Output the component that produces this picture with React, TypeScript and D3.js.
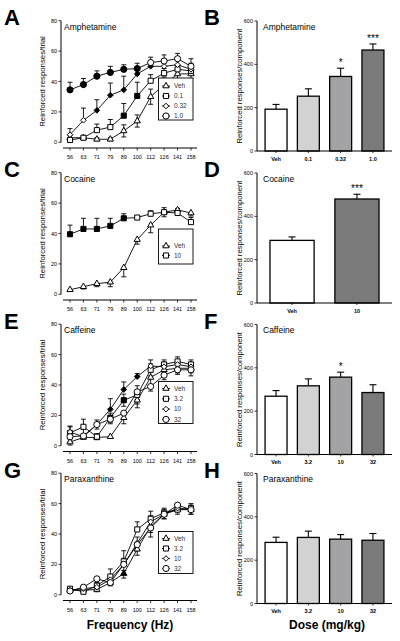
import React from 'react';
import * as d3 from 'd3';

// ---------- Data ----------
const freqs = ["56", "63", "71", "79", "89", "100", "112", "126", "141", "158"];
const yTicksLine = [0, 20, 40, 60, 80];
const yTicksBar = [0, 200, 400, 600];

// A: Amphetamine (line)
const ampNames = ["Veh", "0.1", "0.32", "1.0"];
const ampVeh = [3, 3, 2, 2, 7.5, 14, 30, 38, 45, 45];
const ampVehErr = [1.5, 1, 1, 1, 4, 4, 5, 5, 3, 3];
const amp01 = [1.5, 3, 8, 10, 17.5, 30.5, 40.5, 45.5, 48, 47];
const amp01Err = [1, 1, 4, 5, 8, 9, 4, 3, 3, 3];
const amp01Filled = [4, 5];
const amp032 = [5, 14.5, 21, 31, 34.5, 45, 50, 50, 51, 48];
const amp032Err = [4, 8, 7, 8, 9, 3, 3, 3, 3, 4];
const amp032Filled = [2, 3, 4, 5, 6];
const amp10 = [34.5, 38, 43.5, 46, 48, 48.5, 52.5, 53.5, 55, 50];
const amp10Err = [5, 4, 3.5, 4, 3, 3.5, 3.5, 4, 3.5, 5];
const amp10Filled = [0, 1, 2, 3, 4, 5];

// C: Cocaine (line)
const cocNames = ["Veh", "10"];
const cocVeh = [3, 5, 7, 8, 17.5, 36, 45.5, 54, 55.5, 53.5];
const cocVehErr = [1, 1.5, 2, 3, 6, 3, 5, 3, 2, 2];
const coc10 = [39.5, 43, 43, 45, 50, 50.5, 53, 54, 53.5, 47.5];
const coc10Err = [6, 7, 7, 5, 3, 1, 2, 3, 3, 3];
const coc10Filled = [0, 1, 2, 3, 4];

// E: Caffeine (line)
const cafNames = ["Veh", "3.2", "10", "32"];
const cafVeh = [2.5, 5.5, 5.5, 6, 18.5, 30, 45, 50, 51, 51];
const cafVehErr = [2, 1, 1, 1, 4, 5, 5, 3, 3, 3];
const caf32d = [8.5, 12.5, 6, 18.5, 30, 33.5, 50, 53.5, 55.5, 53.5];
const caf32dErr = [4, 5, 2, 3, 4, 6, 4, 3, 3, 3];
const caf32dFilled = [3, 4];
const caf10 = [9, 6, 14, 24, 37, 45.5, 52.5, 52, 53.5, 52];
const caf10Err = [4, 2, 3, 7, 5, 2, 4, 3, 3, 3];
const caf10Filled = [3, 4, 5];
const caf32 = [6, 6.5, 14, 17.5, 21.5, 35.5, 39, 46.5, 50, 50];
const caf32Err = [3, 2, 3, 3, 4, 5, 3, 3, 3, 4];

// G: Paraxanthine (line)
const parNames = ["Veh", "3.2", "10", "32"];
const parVeh = [3, 3, 3.5, 8, 14, 30, 45, 53, 56, 56];
const parVehErr = [1, 1, 1.5, 2, 3, 4, 4, 3, 3, 3];
const parVehFilled = [4];
const par32d = [4, 2, 6, 12, 22, 43, 50, 54, 56, 57];
const par32dErr = [1, 1, 2, 5, 7, 5, 5, 3, 3, 3];
const par10 = [3, 4, 5, 10, 20, 34, 48, 53, 57, 56];
const par10Err = [1, 1, 2, 3, 4, 4, 4, 3, 3, 3];
const par32 = [2.5, 5, 10.5, 8, 20, 33, 44, 53, 59, 56];
const par32Err = [1, 1, 3, 2, 4, 4, 6, 3, 3, 3];

// B, D, F, H: bar charts
const ampDoses = ["Veh", "0.1", "0.32", "1.0"];
const ampMeans = [193, 253, 344, 466];
const ampSems = [22, 34, 38, 28];
const ampStars = ["", "", "*", "***"];

const cocDoses = ["Veh", "10"];
const cocMeans = [289, 480];
const cocSems = [16, 22];
const cocStars = ["", "***"];

const cafDoses = ["Veh", "3.2", "10", "32"];
const cafMeans = [269, 317, 357, 286];
const cafSems = [26, 32, 23, 36];
const cafStars = ["", "", "*", ""];

const parDoses = ["Veh", "3.2", "10", "32"];
const parMeans = [282, 305, 297, 292];
const parSems = [24, 29, 21, 31];
const parStars = ["", "", "", ""];

// ---------- Styles ----------
const FONT = "Arial, 'Liberation Sans', Helvetica, sans-serif";
const grays4 = ["#ffffff", "#d2d2d2", "#a3a3a6", "#7a7a7a"];
const grays2 = ["#ffffff", "#7a7a7a"];
const rowTops = [0, 152, 303.5, 452.5];

type Marker = "tri" | "sq" | "dia" | "cir";
interface Series {
  name: string;
  values: number[];
  errs: number[];
  marker: Marker;
  filled?: number[];
  dir: number; // 1 up, -1 down, 0 both
}

const symbolType: Record<Marker, d3.SymbolType> = {
  tri: d3.symbolTriangle,
  sq: d3.symbolSquare,
  dia: d3.symbolDiamond2,
  cir: d3.symbolCircle,
};
const symbolSize: Record<Marker, number> = { tri: 17, sq: 26, dia: 20, cir: 30 };
const markerPath = (m: Marker) => d3.symbol().type(symbolType[m]).size(symbolSize[m])() as string;

function LinePanel({ top, letter, title, series, legendTop, legendH, legendFirst, legendStep }: {
  top: number; letter: string; title: string; series: Series[];
  legendTop: number; legendH: number; legendFirst: number; legendStep: number;
}) {
  const x = d3.scalePoint<string>().domain(freqs).range([70, 191]);
  const y = d3.scaleLinear().domain([0, 80]).range([top + 142.3, top + 20.7]);
  const axisX = 61;
  const xAxisY = top + 148;
  const line = d3.line<number>().x((_, i) => x(freqs[i]) as number).y((d) => y(d));
  return (
    <g>
      <text x={4} y={top + 25} fontSize={22} fontWeight="bold">{letter}</text>
      {/* y axis */}
      <line x1={axisX} x2={axisX} y1={y(0)} y2={y(80)} stroke="#000" strokeWidth={1} />
      {yTicksLine.map((t) => (
        <g key={t}>
          <line x1={axisX - 2.5} x2={axisX} y1={y(t)} y2={y(t)} stroke="#000" strokeWidth={0.8} />
          <text x={axisX - 4} y={y(t) + 2} fontSize={5.5} textAnchor="end">{t}</text>
        </g>
      ))}
      <text transform={`translate(44.5,${(y(0) + y(80)) / 2}) rotate(-90)`} fontSize={7.8} textAnchor="middle">
        Reinforced responses/trial
      </text>
      <text x={64} y={top + 29.5} fontSize={8.5}>{title}</text>
      {/* x axis */}
      <line x1={63} x2={197} y1={xAxisY} y2={xAxisY} stroke="#000" strokeWidth={1} />
      {freqs.map((f) => (
        <g key={f}>
          <line x1={x(f)} x2={x(f)} y1={xAxisY} y2={xAxisY + 2.5} stroke="#000" strokeWidth={0.8} />
          <text x={x(f)} y={top + 159.2} fontSize={5.5} textAnchor="middle">{f}</text>
        </g>
      ))}
      {/* lines */}
      {series.map((s) => (
        <path key={s.name + "l"} d={line(s.values) as string} fill="none" stroke="#000" strokeWidth={0.9} />
      ))}
      {/* error bars */}
      {series.map((s) =>
        s.values.map((v, i) => {
          const cx = x(freqs[i]) as number;
          const hi = s.dir >= 0 ? v + s.errs[i] : v;
          const lo = s.dir <= 0 ? v - s.errs[i] : v;
          return (
            <g key={s.name + "e" + i} stroke="#000" strokeWidth={0.9}>
              <line x1={cx} x2={cx} y1={y(lo)} y2={y(hi)} />
              {s.dir >= 0 && <line x1={cx - 2.5} x2={cx + 2.5} y1={y(hi)} y2={y(hi)} />}
              {s.dir <= 0 && <line x1={cx - 2.5} x2={cx + 2.5} y1={y(lo)} y2={y(lo)} />}
            </g>
          );
        })
      )}
      {/* markers */}
      {series.map((s) =>
        s.values.map((v, i) => (
          <path
            key={s.name + "m" + i}
            d={markerPath(s.marker)}
            transform={`translate(${x(freqs[i])},${y(v)})`}
            fill={s.filled && s.filled.includes(i) ? "#000" : "#fff"}
            stroke="#000"
            strokeWidth={1}
          />
        ))
      )}
      {/* legend */}
      <rect x={158.5} y={top + legendTop} width={34.5} height={legendH} fill="#fff" stroke="#000" strokeWidth={0.9} />
      {series.map((s, i) => {
        const ly = top + legendTop + legendFirst + i * legendStep;
        return (
          <g key={s.name + "lg"}>
            <line x1={162} x2={170} y1={ly} y2={ly} stroke="#000" strokeWidth={0.9} />
            <path d={markerPath(s.marker)} transform={`translate(166,${ly})`} fill="#fff" stroke="#000" strokeWidth={1} />
            <text x={174} y={ly + 2.3} fontSize={6.5} fill="#333">{s.name}</text>
          </g>
        );
      })}
    </g>
  );
}

function BarPanel({ top, letter, title, doses, means, sems, colors, stars }: {
  top: number; letter: string; title: string; doses: string[]; means: number[]; sems: number[];
  colors: string[]; stars: string[];
}) {
  const n = doses.length;
  const x = d3.scaleBand<string>().domain(doses).range([257, 392])
    .paddingInner(0.32).paddingOuter(n === 2 ? 0.2 : 0.25);
  const y = d3.scaleLinear().domain([0, 600]).range([top + 151, top + 21]);
  const axisX = 257;
  const bw = x.bandwidth();
  return (
    <g>
      <text x={204} y={top + 25} fontSize={22} fontWeight="bold">{letter}</text>
      {doses.map((d, i) => {
        const bx = x(d) as number;
        const cx = bx + bw / 2;
        const et = y(means[i] + sems[i]);
        return (
          <g key={d}>
            <line x1={cx} x2={cx} y1={y(means[i])} y2={et} stroke="#000" strokeWidth={1.1} />
            <line x1={cx - 3.5} x2={cx + 3.5} y1={et} y2={et} stroke="#000" strokeWidth={1.1} />
            <rect x={bx} y={y(means[i])} width={bw} height={y(0) - y(means[i])} fill={colors[i]} stroke="#000" strokeWidth={1.3} />
            {stars[i] && (
              <text x={cx} y={et - 2} fontSize={10} textAnchor="middle">{stars[i]}</text>
            )}
            <line x1={cx} x2={cx} y1={y(0)} y2={y(0) + 2} stroke="#000" strokeWidth={0.8} />
            <text x={cx} y={top + 160.5} fontSize={5.5} fontWeight="bold" textAnchor="middle">{d}</text>
          </g>
        );
      })}
      <line x1={axisX} x2={axisX} y1={y(0)} y2={y(600)} stroke="#000" strokeWidth={1} />
      <line x1={axisX} x2={392} y1={y(0)} y2={y(0)} stroke="#000" strokeWidth={1} />
      {yTicksBar.map((t) => (
        <g key={t}>
          <line x1={axisX - 2.5} x2={axisX} y1={y(t)} y2={y(t)} stroke="#000" strokeWidth={0.8} />
          <text x={axisX - 4} y={y(t) + 2} fontSize={5.5} textAnchor="end">{t}</text>
        </g>
      ))}
      <text transform={`translate(242,${(y(0) + y(600)) / 2}) rotate(-90)`} fontSize={7.7} textAnchor="middle">
        Reinforced responses/component
      </text>
      <text x={263} y={top + 29.5} fontSize={8.5}>{title}</text>
    </g>
  );
}

const ampSeries: Series[] = [
  { name: ampNames[0], values: ampVeh, errs: ampVehErr, marker: "tri", dir: 0 },
  { name: ampNames[1], values: amp01, errs: amp01Err, marker: "sq", filled: amp01Filled, dir: 1 },
  { name: ampNames[2], values: amp032, errs: amp032Err, marker: "dia", filled: amp032Filled, dir: 1 },
  { name: ampNames[3], values: amp10, errs: amp10Err, marker: "cir", filled: amp10Filled, dir: 1 },
];
const cocSeries: Series[] = [
  { name: cocNames[0], values: cocVeh, errs: cocVehErr, marker: "tri", dir: -1 },
  { name: cocNames[1], values: coc10, errs: coc10Err, marker: "sq", filled: coc10Filled, dir: 1 },
];
const cafSeries: Series[] = [
  { name: cafNames[0], values: cafVeh, errs: cafVehErr, marker: "tri", dir: -1 },
  { name: cafNames[1], values: caf32d, errs: caf32dErr, marker: "sq", filled: caf32dFilled, dir: 0 },
  { name: cafNames[2], values: caf10, errs: caf10Err, marker: "dia", filled: caf10Filled, dir: 1 },
  { name: cafNames[3], values: caf32, errs: caf32Err, marker: "cir", dir: -1 },
];
const parSeries: Series[] = [
  { name: parNames[0], values: parVeh, errs: parVehErr, marker: "tri", filled: parVehFilled, dir: -1 },
  { name: parNames[1], values: par32d, errs: par32dErr, marker: "sq", dir: 1 },
  { name: parNames[2], values: par10, errs: par10Err, marker: "dia", dir: 1 },
  { name: parNames[3], values: par32, errs: par32Err, marker: "cir", dir: -1 },
];

export default function App() {
  return (
    <svg
      width={400}
      height={641}
      viewBox="0 0 400 641"
      style={{ position: "absolute", left: 0, top: 0, display: "block", background: "#fff" }}
      fontFamily={FONT}
    >
      <rect x={0} y={0} width={400} height={641} fill="#fff" />
      <LinePanel top={rowTops[0]} letter="A" title="Amphetamine" series={ampSeries} legendTop={78} legendH={42} legendFirst={8} legendStep={10} />
      <LinePanel top={rowTops[1]} letter="C" title="Cocaine" series={cocSeries} legendTop={77} legendH={35} legendFirst={17} legendStep={9.5} />
      <LinePanel top={rowTops[2]} letter="E" title="Caffeine" series={cafSeries} legendTop={78} legendH={42} legendFirst={7} legendStep={10.3} />
      <LinePanel top={rowTops[3]} letter="G" title="Paraxanthine" series={parSeries} legendTop={79} legendH={42} legendFirst={7} legendStep={10} />
      <BarPanel top={rowTops[0]} letter="B" title="Amphetamine" doses={ampDoses} means={ampMeans} sems={ampSems} colors={grays4} stars={ampStars} />
      <BarPanel top={rowTops[1]} letter="D" title="Cocaine" doses={cocDoses} means={cocMeans} sems={cocSems} colors={grays2} stars={cocStars} />
      <BarPanel top={rowTops[2]} letter="F" title="Caffeine" doses={cafDoses} means={cafMeans} sems={cafSems} colors={grays4} stars={cafStars} />
      <BarPanel top={rowTops[3]} letter="H" title="Paraxanthine" doses={parDoses} means={parMeans} sems={parSems} colors={grays4} stars={parStars} />
      <text x={130} y={629} fontSize={12} fontWeight="bold" textAnchor="middle">Frequency (Hz)</text>
      <text x={327} y={629} fontSize={12} fontWeight="bold" textAnchor="middle">Dose (mg/kg)</text>
    </svg>
  );
}
